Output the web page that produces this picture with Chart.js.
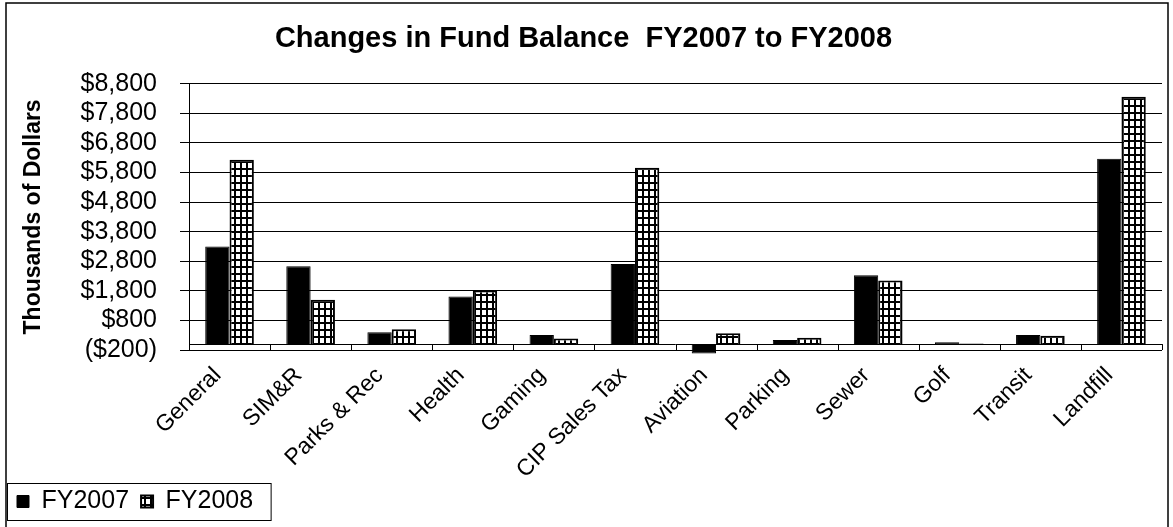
<!DOCTYPE html>
<html lang="en">
<head>
  <meta charset="UTF-8">
  <title>Changes in Fund Balance FY2007 to FY2008</title>
  <script src="https://cdn.jsdelivr.net/npm/chart.js"></script>
  <style>
    html, body { margin: 0; padding: 0; background: #fff; }
    canvas { display: block; }
  </style>
</head>
<body>
  <canvas id="myChart" width="1173" height="527"></canvas>

  <script>
    // data (thousands of dollars)
    const categories = ['General', 'SIM&R', 'Parks & Rec', 'Health', 'Gaming', 'CIP Sales Tax',
      'Aviation', 'Parking', 'Sewer', 'Golf', 'Transit', 'Landfill'];
    const fy2007 = [3300, 2630, 400, 1610, 310, 2710, -320, 140, 2330, 60, 310, 6270];
    const fy2008 = [6230, 1500, 500, 1810, 190, 5960, 370, 210, 2150, 20, 280, 8360];
    const yTicks = [-200, 800, 1800, 2800, 3800, 4800, 5800, 6800, 7800, 8800];

    const font = 'Liberation Sans, Arial, sans-serif';

    // white with a black grid, like the FY2008 bars
    function gridPattern() {
      const c = document.createElement('canvas');
      c.width = 6; c.height = 7;
      const g = c.getContext('2d');
      g.fillStyle = '#fff';
      g.fillRect(0, 0, 6, 7);
      g.fillStyle = '#000';
      g.fillRect(0, 0, 6, 2);
      g.fillRect(0, 0, 2, 7);
      return g.createPattern(c, 'repeat');
    }

    function money(v) {
      const s = '$' + Math.abs(v).toLocaleString('en-US');
      return v < 0 ? '(' + s + ')' : s;
    }

    // outer chart border, legend border, zero line and category ticks
    const decorations = {
      id: 'decorations',
      beforeDraw(chart) {
        const ctx = chart.ctx;
        ctx.save();
        ctx.strokeStyle = '#000';
        ctx.lineWidth = 1.5;
        ctx.strokeRect(6, 3, 1162, 540);
        ctx.restore();
      },
      beforeDatasetsDraw(chart) {
        const { ctx, chartArea } = chart;
        const y = chart.scales.y;
        const y0 = y.getPixelForValue(0), yb = y.getPixelForValue(-200);
        const step = (chartArea.right - chartArea.left) / categories.length;
        ctx.save();
        ctx.strokeStyle = '#000';
        ctx.lineWidth = 1;
        ctx.beginPath();
        ctx.moveTo(chartArea.left, Math.round(y0) + 0.5);
        ctx.lineTo(chartArea.right, Math.round(y0) + 0.5);
        for (let i = 0; i <= categories.length; i++) {
          const px = Math.round(chartArea.left + i * step) + 0.5;
          ctx.moveTo(px, y0);
          ctx.lineTo(px, yb);
        }
        ctx.stroke();
        ctx.restore();
      },
      afterDraw(chart) {
        const boxes = chart.legend.legendHitBoxes;
        if (!boxes || !boxes.length) return;
        const last = boxes[boxes.length - 1];
        const ctx = chart.ctx;
        ctx.save();
        ctx.strokeStyle = '#000';
        ctx.lineWidth = 1;
        ctx.strokeRect(7.5, 483.5, last.left + last.width + 18 - 7.5, 37);
        ctx.restore();
      }
    };

    const ctx = document.getElementById('myChart').getContext('2d');
    const myChart = new Chart(ctx, {
      type: 'bar',
      data: {
        labels: categories,
        datasets: [{
          label: 'FY2007',
          data: fy2007,
          backgroundColor: '#000',
          borderColor: '#000',
          borderWidth: 1,
          clip: false
        },
        {
          label: 'FY2008',
          data: fy2008,
          backgroundColor: gridPattern(),
          borderColor: '#000',
          borderWidth: 2,
          clip: false
        }]
      },
      options: {
        responsive: false,
        animation: false,
        categoryPercentage: 0.6,
        barPercentage: 1,
        layout: { padding: { left: 5, right: 11, top: 0, bottom: 3 } },
        plugins: {
          title: {
            display: true,
            text: 'Changes in Fund Balance  FY2007 to FY2008',
            color: '#000',
            font: { family: font, size: 29, weight: 'bold' },
            padding: { top: 22, bottom: 27 }
          },
          legend: {
            position: 'bottom',
            align: 'start',
            labels: {
              color: '#000',
              font: { family: font, size: 25 },
              boxWidth: 12,
              boxHeight: 12,
              padding: 12
            }
          },
          tooltip: { enabled: false }
        },
        scales: {
          x: {
            grid: { display: false, drawTicks: false },
            border: { display: false },
            ticks: {
              color: '#000',
              font: { family: font, size: 23 },
              minRotation: 45,
              maxRotation: 45,
              autoSkip: false,
              labelOffset: -12,
              padding: 12
            },
            afterFit(scale) { scale.height = 127; }
          },
          y: {
            min: -200,
            max: 8800,
            afterBuildTicks(scale) { scale.ticks = yTicks.map(v => ({ value: v })); },
            grid: { color: '#000', lineWidth: 1, tickLength: 9 },
            border: { display: true, color: '#000', width: 1 },
            ticks: {
              color: '#000',
              font: { family: font, size: 25 },
              padding: 23,
              autoSkip: false,
              callback: v => money(v)
            },
            title: {
              display: true,
              text: 'Thousands of Dollars',
              color: '#000',
              font: { family: font, size: 23, weight: 'bold' },
              padding: { top: 15, bottom: 0 }
            },
            afterFit(scale) { scale.width = 184; }
          }
        }
      },
      plugins: [decorations]
    });
  </script>
</body>
</html>
